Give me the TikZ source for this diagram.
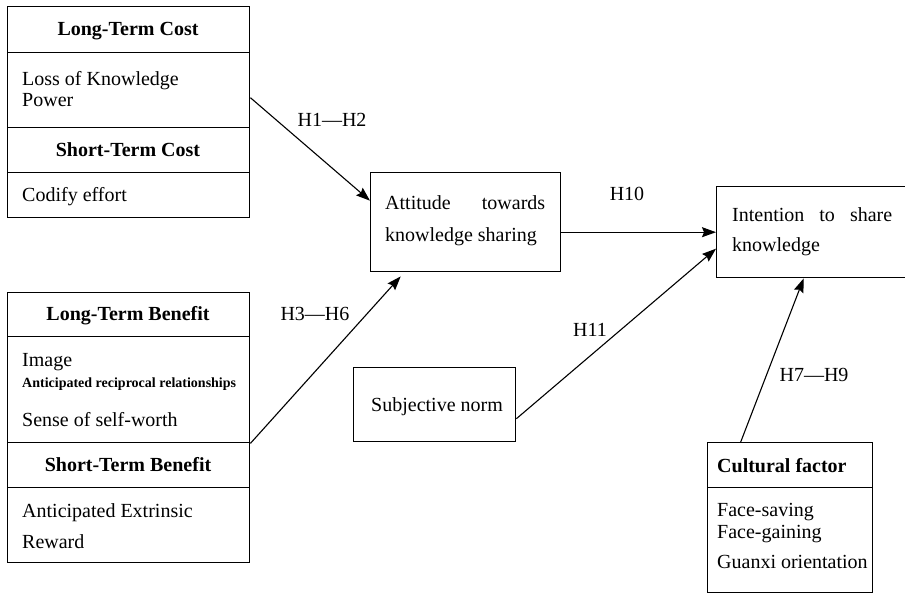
\documentclass[tikz,border=0pt]{standalone}
\usepackage{fontspec}
\setmainfont{Liberation Serif}
\usetikzlibrary{arrows.meta,calc}
\begin{document}
\begin{tikzpicture}[x=1pt,y=-1pt,
  box/.style={draw, line width=1.4pt, inner sep=0pt, anchor=north west},
  txt/.style={font=\fontsize{20}{22}\selectfont, inner sep=0pt, anchor=base west},
  ttl/.style={font=\fontsize{20}{22}\selectfont\bfseries, inner sep=0pt, anchor=base},
  lbl/.style={font=\fontsize{20}{22}\selectfont, inner sep=0pt},
  arr/.style={line width=1.1pt, -{Stealth[length=14pt,width=10pt,inset=2pt]}},
]
\clip (0,0) rectangle (905,593);
% cost block
\node[box, minimum width=242pt, minimum height=46pt] (costT) at (7,6) {};
\node[box, minimum width=242pt, minimum height=75pt] (costL) at (7,52) {};
\node[box, minimum width=242pt, minimum height=45pt] (costS) at (7,127) {};
\node[box, minimum width=242pt, minimum height=45pt] (costC) at (7,172) {};
\node[ttl] (tcT) at (128,36) {Long-Term Cost};
\node[txt] (tcL1) at (22,86) {Loss of Knowledge};
\node[txt] (tcL2) at (22,107) {Power};
\node[ttl] (tcS) at (128,157) {Short-Term Cost};
\node[txt] (tcC) at (22,202) {Codify effort};
% benefit block
\node[box, minimum width=242pt, minimum height=44pt] (benT) at (7,292) {};
\node[box, minimum width=242pt, minimum height=106pt] (benL) at (7,336) {};
\node[box, minimum width=242pt, minimum height=45pt] (benS) at (7,442) {};
\node[box, minimum width=242pt, minimum height=75pt] (benE) at (7,487) {};
\node[ttl] (tbT) at (128,321) {Long-Term Benefit};
\node[txt] (tbL1) at (22,367) {Image};
\node[txt, font=\fontsize{14}{16}\selectfont\bfseries] (tbL2) at (22,388) {Anticipated reciprocal relationships};
\node[txt] (tbL3) at (22,427) {Sense of self-worth};
\node[ttl] (tbS) at (128,471) {Short-Term Benefit};
\node[txt] (tbE1) at (22,517) {Anticipated Extrinsic};
\node[txt] (tbE2) at (22,548) {Reward};
% attitude
\node[box, minimum width=190pt, minimum height=99pt] (att) at (370,172) {};
\node[txt] (ta1) at (385,210) {\hbox to 160pt{Attitude\hfill towards}};
\node[txt] (ta2) at (385,242) {knowledge sharing};
% intention
\node[box, minimum width=210pt, minimum height=91pt] (int) at (716,186) {};
\node[txt] (ti1) at (732,222) {\hbox to 160pt{Intention\hfill to\hfill share}};
\node[txt] (ti2) at (732,252) {knowledge};
% subjective norm
\node[box, minimum width=162pt, minimum height=74pt] (subj) at (353,367) {};
\node[txt] (ts) at (371,412) {Subjective norm};
% cultural
\node[box, minimum width=165pt, minimum height=45pt] (culT) at (707,442) {};
\node[box, minimum width=165pt, minimum height=105pt] (culB) at (707,487) {};
\node[txt, font=\fontsize{20}{22}\selectfont\bfseries] (tuT) at (717,472) {Cultural factor};
\node[txt] (tu1) at (717,516) {Face-saving};
\node[txt] (tu2) at (717,538) {Face-gaining};
\node[txt] (tu3) at (717,568) {Guanxi orientation};
% arrows
\draw[arr] ([yshift=-7.5pt]costL.east) -- ([yshift=21.5pt]att.west);
\draw[arr] (benL.south east) -- ([xshift=-65pt,yshift=-4pt]att.south);
\draw[arr] (att.east |- int.west) -- (int.west);
\draw[arr] ([yshift=-14pt]subj.east) -- ([yshift=-16.5pt]int.west);
\draw[arr] ([xshift=-49.5pt]culT.north) -- ([xshift=-18pt]int.south);
% labels
\node[lbl] (h12) at (332,120) {H1—H2};
\node[lbl] (h10) at (627,194) {H10};
\node[lbl] (h36) at (315,314) {H3—H6};
\node[lbl] (h11) at (590,330) {H11};
\node[lbl] (h79) at (814,375) {H7—H9};
\end{tikzpicture}
\end{document}
